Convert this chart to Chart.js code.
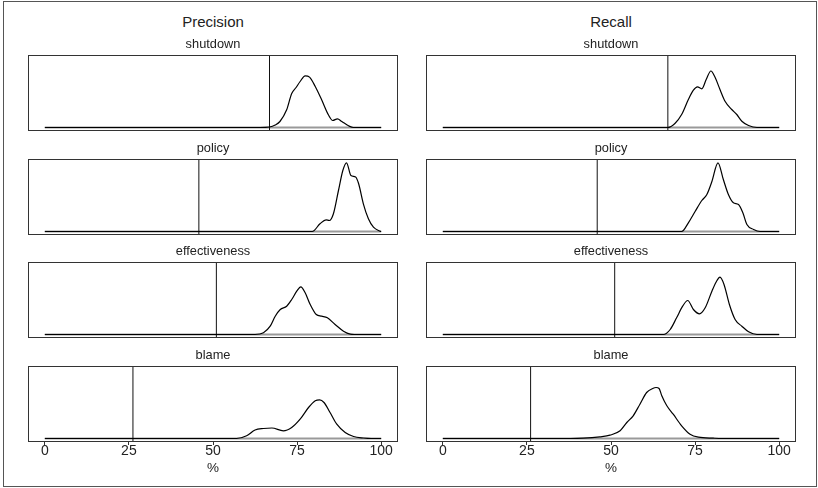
<!DOCTYPE html>
<html>
<head>
<meta charset="utf-8">
<script src="https://cdn.jsdelivr.net/npm/chart.js@4"></script>
<style>
  body { margin: 0; width: 818px; height: 488px; position: relative; overflow: hidden; background: #fff;
         font-family: "Liberation Sans", Arial, sans-serif; }
  .frame { position: absolute; left: 3px; top: 1px; width: 812px; height: 484px; border: 1px solid #555; }
  .head { position: absolute; top: 13px; width: 370px; line-height: 18px; font-size: 15px; color: #222; text-align: center; }
  canvas { position: absolute; }
</style>
</head>
<body>
<div class="frame"></div>
<script>
// x axis tick labels (%)
const TICKS = [0, 25, 50, 75, 100];
const TOPICS = ["shutdown", "policy", "effectiveness", "blame"];
const METRICS = ["Precision", "Recall"];

// reference line per topic (%)
const precisionCutoffs = [66.8, 45.8, 51.0, 26.2];
const recallCutoffs = [66.9, 45.9, 51.1, 26.1];

// density curves as [x %, density] (arbitrary units)
const precShutdown = [[0, 0], [64, 0], [66.8, 0.5], [68.5, 2.5], [69.9, 6], [71.9, 17.7], [73.4, 34], [74.7, 40],
  [75.9, 46], [77.4, 51.7], [78.7, 50.4], [80.4, 41], [82.3, 27.7], [84.3, 12.7], [85.6, 7], [87.0, 8.7],
  [88.3, 6], [90.3, 1.7], [91.7, 0], [100, 0]];
const precPolicy = [[0, 0], [79.5, 0], [81.8, 7.7], [83.6, 11.7], [84.6, 11], [85.8, 17.7], [87.3, 41], [88.6, 61],
  [89.7, 68.7], [91.0, 56], [92.4, 54.5], [93.3, 47.7], [94.7, 27.7], [96.2, 12.7], [97.7, 4.3], [99.5, 0.5], [100, 0]];
const precEffect = [[0, 0], [62.5, 0], [65, 1.7], [67, 8.3], [68.5, 18.3], [70, 25], [71.9, 28.3], [73.4, 35],
  [74.9, 43.3], [76.1, 47.7], [77.4, 41.7], [78.9, 30], [80.7, 20], [82.3, 18.3], [84, 16.7], [86.3, 10],
  [88.8, 3.3], [90.8, 0.3], [92, 0], [100, 0]];
const precBlame = [[0, 0], [57, 0], [60, 2.7], [62.5, 8.5], [65, 10], [67.5, 10.5], [70.9, 7.7], [73.4, 11],
  [75.9, 19.3], [78.4, 31], [80.4, 37.7], [81.7, 38.7], [83, 36], [84.8, 26], [86.8, 14.3], [89.3, 6],
  [91.8, 2], [94.7, 0.5], [97, 0], [100, 0]];

const recShutdown = [[0, 0], [66.9, 0], [69, 4], [71, 13], [73, 28], [74.5, 37.3], [75.7, 40.7], [77, 38.7],
  [78.3, 48], [79.7, 56.5], [81, 49.7], [82.4, 38], [83.9, 26.3], [85.9, 18], [87.4, 13], [88.9, 6.3],
  [90.9, 2], [93.4, 0], [100, 0]];
const recPolicy = [[0, 0], [71, 0], [73, 8.7], [75, 20], [77, 31], [78.5, 37], [80, 50], [81.8, 68.7], [83.4, 52],
  [84.9, 37], [86.4, 28.7], [87.9, 27], [89.2, 18.7], [90.4, 7], [92.4, 2], [94.3, 0], [100, 0]];
const recEffect = [[0, 0], [65.6, 0], [67.6, 5], [69.5, 16.7], [71.3, 28.3], [72.8, 34], [74.5, 25], [76.3, 20.7],
  [78, 26.7], [80, 43.3], [81.5, 54], [82.4, 57.3], [83.6, 50], [85.2, 30], [86.9, 15], [88.9, 8.3],
  [90.9, 2.7], [93.4, 0], [100, 0]];
const recBlame = [[0, 0], [38, 0], [41.8, 0.3], [46.7, 1.7], [49.7, 3.3], [52.7, 7.7], [54.7, 16], [56.6, 22.7],
  [58.6, 34.3], [60.6, 46], [62.4, 50], [63.4, 51], [64.3, 50], [65.1, 42.7], [66.6, 32.7], [68.5, 24.3],
  [71, 12.7], [73.5, 4.3], [76, 1.3], [80.4, 0.3], [83, 0], [100, 0]];

const precisionCurves = [precShutdown, precPolicy, precEffect, precBlame];
const recallCurves = [recShutdown, recPolicy, recEffect, recBlame];

// layout
const BOX_LEFT = [28, 426];
const BOX_TOP = [55, 159, 262, 366];
const BOX_W = 370, BOX_H = 76, TITLE_H = 18, AXIS_H = 40;
const Y_MIN = -3.5, Y_MAX = 72.5;
const FONT = "'Liberation Sans', Arial, sans-serif";
const TEXT = "#222";

Chart.defaults.font.family = FONT;
Chart.defaults.color = TEXT;

// frame around plot region
const boxPlugin = {
  id: "box",
  afterDatasetsDraw(chart) {
    const { ctx, chartArea: a } = chart;
    ctx.save();
    ctx.strokeStyle = "#333";
    ctx.lineWidth = 1;
    ctx.strokeRect(a.left + 0.5, a.top + 0.5, a.width - 1, a.height - 1);
    ctx.restore();
  },
};

const toPoints = (arr) => arr.map(([x, y]) => ({ x, y }));

const makePanel = (col, row) => {
  const isBottom = row === TOPICS.length - 1;
  const curve = col === 0 ? precisionCurves[row] : recallCurves[row];
  const cut = col === 0 ? precisionCutoffs[row] : recallCutoffs[row];

  const canvas = document.createElement("canvas");
  const w = BOX_W + 2;
  const h = TITLE_H + BOX_H + (isBottom ? AXIS_H : 1);
  canvas.width = w;
  canvas.height = h;
  canvas.style.left = BOX_LEFT[col] - 1 + "px";
  canvas.style.top = BOX_TOP[row] - TITLE_H + "px";
  canvas.style.width = w + "px";
  canvas.style.height = h + "px";
  document.body.appendChild(canvas);

  new Chart(canvas.getContext("2d"), {
    type: "line",
    data: {
      datasets: [
        {
          data: toPoints(curve),
          borderColor: "#000",
          borderWidth: 1.2,
          pointRadius: 0,
          cubicInterpolationMode: "monotone",
          order: 0,
        },
        {
          data: [{ x: cut, y: Y_MIN }, { x: cut, y: Y_MAX }],
          borderColor: "#111",
          borderWidth: 1,
          pointRadius: 0,
          order: 1,
        },
        {
          data: [{ x: TICKS[0], y: 0 }, { x: TICKS[TICKS.length - 1], y: 0 }],
          borderColor: "#999",
          borderWidth: 2,
          pointRadius: 0,
          order: 2,
        },
      ],
    },
    options: {
      responsive: false,
      animation: false,
      devicePixelRatio: 1,
      layout: { padding: { left: 1, right: 1, top: 0, bottom: isBottom ? 0 : 1 } },
      plugins: {
        legend: { display: false },
        tooltip: { enabled: false },
        title: {
          display: true,
          text: TOPICS[row],
          color: TEXT,
          font: { size: 12.8, weight: "normal", lineHeight: "15px" },
          padding: { top: 0, bottom: 3 },
        },
      },
      scales: {
        x: {
          type: "linear",
          min: -5,
          max: 105,
          display: isBottom,
          afterFit: (s) => { s.height = isBottom ? AXIS_H : 0; },
          afterBuildTicks: (s) => { s.ticks = TICKS.map((v) => ({ value: v })); },
          border: { display: false },
          grid: { display: true, drawOnChartArea: false, drawTicks: true, tickLength: 3, color: "#333" },
          ticks: { color: TEXT, font: { size: 14, lineHeight: "15px" }, padding: -1, maxRotation: 0 },
          title: {
            display: true,
            text: "%",
            color: TEXT,
            font: { size: 13.5, lineHeight: "15px" },
            padding: { top: 0, bottom: 6 },
          },
        },
        y: { display: false, min: Y_MIN, max: Y_MAX },
      },
    },
    plugins: [boxPlugin],
  });
};

METRICS.forEach((name, col) => {
  const head = document.createElement("div");
  head.className = "head";
  head.style.left = BOX_LEFT[col] + "px";
  head.textContent = name;
  document.body.appendChild(head);
  TOPICS.forEach((_, row) => makePanel(col, row));
});
</script>
</body>
</html>
